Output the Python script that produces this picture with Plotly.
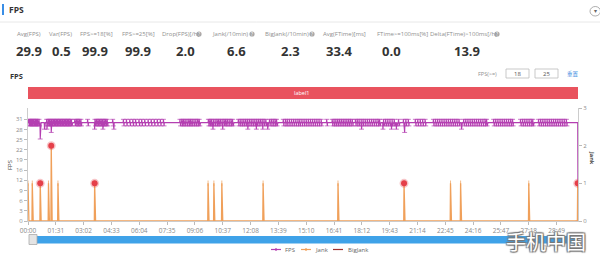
import plotly.graph_objects as go

# ---------------- data ----------------
duration_s = 1800
fps_baseline = 30
fps_up_times = [2, 6, 10, 14, 18, 23, 27, 31, 36,
                61, 66, 70, 75, 79, 84, 88, 93, 97, 102, 106, 111, 115, 120, 124, 129, 133, 138, 142,
                153, 158, 163, 168, 173, 195,
                219, 224, 229, 234, 239, 244, 249, 254, 259, 277,
                312, 322, 333, 343, 352, 363, 372, 382, 393, 403, 413, 423, 433, 443,
                497, 503, 508, 514, 520, 526, 531, 537, 543, 549, 555, 560,
                590, 595, 600, 606, 612, 618, 623, 629, 635, 641, 646, 652, 658, 664, 669,
                688, 694, 700, 706, 712, 718, 724, 730, 736, 742, 748, 754, 760, 766, 772, 778, 790, 796, 802, 808, 813,
                835, 842, 848, 855, 862, 869, 876, 883, 889, 896, 903, 910, 917, 924, 931, 938, 945, 952, 959, 977,
                995, 1001, 1007, 1013, 1019, 1025, 1031, 1037, 1043, 1049, 1055, 1061,
                1071, 1077, 1083, 1090, 1096, 1103, 1110, 1117, 1124, 1131, 1138, 1145, 1150,
                1163, 1170, 1177, 1184, 1191, 1198, 1205, 1212, 1228, 1236, 1244,
                1267, 1275, 1283, 1291, 1299,
                1326, 1333, 1340, 1347, 1354, 1361, 1368, 1375, 1382, 1389, 1396, 1403, 1410,
                1425, 1432, 1439, 1446, 1453, 1460, 1467, 1474, 1481, 1488, 1495, 1500,
                1523, 1530, 1537, 1544, 1551, 1558, 1565, 1572, 1579, 1585,
                1611, 1618, 1625, 1632, 1639, 1646, 1651,
                1670, 1677, 1684, 1691, 1698, 1705, 1712, 1719, 1726, 1733, 1740, 1747, 1754, 1761]
fps_down_times = [4, 8, 12, 16, 21, 25, 29, 33, 38,
                  63, 68, 72, 77, 81, 86, 90, 95, 99, 104, 108, 113, 117, 122, 126, 131, 135, 140, 144,
                  155, 160, 165, 170, 175, 197,
                  221, 226, 231, 236, 241, 246, 251, 256, 261, 279,
                  314, 324, 335, 345, 354, 365, 374, 384, 395, 405, 415, 425, 435, 445,
                  499, 505, 510, 516, 522, 528, 533, 539, 545, 551, 557, 562,
                  592, 597, 602, 608, 614, 620, 625, 631, 637, 643, 648, 654, 660, 666, 671,
                  690, 696, 702, 708, 714, 720, 726, 732, 738, 744, 750, 756, 762, 768, 774, 780, 792, 798, 804, 810, 815,
                  837, 844, 850, 857, 864, 871, 878, 885, 891, 898, 905, 912, 919, 926, 933, 940, 947, 954, 961, 979,
                  997, 1003, 1009, 1015, 1021, 1027, 1033, 1039, 1045, 1051, 1057, 1063,
                  1073, 1079, 1085, 1092, 1098, 1105, 1112, 1119, 1126, 1133, 1140, 1147, 1152,
                  1165, 1172, 1179, 1186, 1193, 1200, 1207, 1214, 1230, 1238, 1246,
                  1269, 1277, 1285, 1293, 1301,
                  1328, 1335, 1342, 1349, 1356, 1363, 1370, 1377, 1384, 1391, 1398, 1405, 1412,
                  1427, 1434, 1441, 1448, 1455, 1462, 1469, 1476, 1483, 1490, 1497, 1502,
                  1525, 1532, 1539, 1546, 1553, 1560, 1567, 1574, 1581, 1587,
                  1613, 1620, 1627, 1634, 1641, 1648, 1653,
                  1672, 1679, 1686, 1693, 1700, 1707, 1714, 1721, 1728, 1735, 1742, 1749, 1756, 1763]
fps_dip_times = [40, 54, 62, 76, 218, 245, 281, 605, 637, 719, 747, 768, 784,
                 1091, 1161, 1189, 1205, 1232, 1418, 1799]
fps_dip_values = [25, 28, 28, 27, 28, 28, 28, 28, 28, 28, 28, 28, 28,
                  28, 28, 28, 28, 27, 28, 0]

jank_times = [0, 14, 40, 67, 76, 98, 218, 589, 608, 634, 769, 1014, 1230, 1382, 1415, 1638, 1798]
jank_values = [1, 1, 1, 1, 2, 1, 1, 1, 1, 1, 1, 1, 1, 1, 1, 1, 1]
bigjank_times = [40, 76, 218, 1230, 1798]
bigjank_values = [1, 2, 1, 1, 1]

x_tick_labels = ["00:00", "01:31", "03:02", "04:33", "06:04", "07:35", "09:06", "10:37", "12:08", "13:39",
                 "15:10", "16:41", "18:12", "19:43", "21:14", "22:45", "24:16", "25:47", "27:18", "28:49"]
x_tick_step_s = 91
fps_tick_values = [0, 3.1, 6.2, 9.3, 12.4, 15.5, 18.6, 21.7, 24.8, 27.9, 31]
fps_tick_labels = ["0", "3", "6", "9", "12", "16", "19", "22", "25", "28", "31"]

stat_labels = ["Avg(FPS)", "Var(FPS)", "FPS>=18[%]", "FPS>=25[%]", "Drop(FPS)[/h]", "Jank(/10min)",
               "BigJank(/10min)", "Avg(FTime)[ms]", "FTime>=100ms[%]", "Delta(FTime)>100ms[/h]"]
stat_values = ["29.9", "0.5", "99.9", "99.9", "2.0", "6.6", "2.3", "33.4", "0.0", "13.9"]
stat_has_help = [False, False, False, False, True, True, True, False, False, True]

# ---------------- build series ----------------
t = list(range(duration_s))
fps = [fps_baseline] * duration_s
for s in fps_up_times:
    fps[s] = 31
for s in fps_down_times:
    fps[s] = 29
for s, v in zip(fps_dip_times, fps_dip_values):
    fps[s] = v
fps_marker_size = [0 if v == fps_baseline else 3.5 for v in fps]

jank = [0] * duration_s
for s, v in zip(jank_times, jank_values):
    jank[s] = v
jank_marker_size = [0 if v == 0 else 4 for v in jank]

bigjank = [None] * duration_s
for s, v in zip(bigjank_times, bigjank_values):
    bigjank[s] = v

# ---------------- geometry helpers (pixel -> paper) ----------------
W, H = 600, 255
L, R, T, B = 28, 22, 108, 34
PW, PH = W - L - R, H - T - B


def px(x):
    return (x - L) / PW


def py(y):
    return (H - B - y) / PH


FPS_C = "#b43fb1"
JANK_C = "#f0a05a"
BIG_C = "#e5404a"
GRAY = "#8a8a8a"
FONT = "Open Sans"

fig = go.Figure()
fig.add_trace(go.Scatter(x=t, y=fps, name="FPS", mode="lines+markers",
                         line=dict(color=FPS_C, width=1.1),
                         marker=dict(symbol="line-ew", size=fps_marker_size,
                                     line=dict(color=FPS_C, width=1)),
                         showlegend=False))
fig.add_trace(go.Scatter(x=t, y=jank, name="Jank", mode="lines+markers", yaxis="y2",
                         line=dict(color=JANK_C, width=1.3),
                         marker=dict(symbol="line-ns", size=jank_marker_size,
                                     line=dict(color=JANK_C, width=1)),
                         showlegend=False))
fig.add_trace(go.Scatter(x=t, y=bigjank, name="BigJank", mode="markers", yaxis="y2",
                         marker=dict(symbol="circle", size=6, color=BIG_C,
                                     line=dict(color="rgba(229,64,74,0.3)", width=3)),
                         showlegend=False))

fig.update_layout(
    width=W, height=H,
    margin=dict(l=L, r=R, t=T, b=B),
    paper_bgcolor="white", plot_bgcolor="white",
    font=dict(family=FONT, color=GRAY, size=7),
    xaxis=dict(range=[0, duration_s - 1],
               tickvals=[i * x_tick_step_s for i in range(len(x_tick_labels))],
               ticktext=x_tick_labels, showgrid=False, zeroline=False,
               showline=True, linecolor="#cccccc", linewidth=1,
               ticks="outside", ticklen=3, tickcolor="#bbbbbb",
               tickfont=dict(size=6.5, color=GRAY)),
    yaxis=dict(range=[0, 34.45], tickvals=fps_tick_values, ticktext=fps_tick_labels,
               showgrid=False, zeroline=False, showline=True, linecolor="#cccccc",
               ticks="outside", ticklen=3, tickcolor="#bbbbbb",
               tickfont=dict(size=6, color=GRAY)),
    yaxis2=dict(range=[0, 3], tickvals=[0, 1, 2, 3], overlaying="y", side="right",
                showgrid=False, zeroline=False, showline=True, linecolor="#cccccc",
                ticks="outside", ticklen=3, tickcolor="#bbbbbb",
                tickfont=dict(size=6, color=GRAY)),
)

shapes = []
ann = []

# header
shapes.append(dict(type="line", xref="paper", yref="paper", x0=px(3), x1=px(3), y0=py(4), y1=py(15),
                   line=dict(color="#3a8ee6", width=2)))
ann.append(dict(text="<b>FPS</b>", x=px(7), y=py(9.5), xanchor="left", yanchor="middle",
                font=dict(size=8.5, color="#333333")))
shapes.append(dict(type="line", xref="paper", yref="paper", x0=px(0), x1=px(600), y0=py(22), y1=py(22),
                   line=dict(color="#e8e8e8", width=1)))
shapes.append(dict(type="circle", xref="paper", yref="paper", x0=px(590), x1=px(600.5), y0=py(6.5), y1=py(16),
                   line=dict(color="#999999", width=0.8)))
ann.append(dict(text="▾", x=px(595.5), y=py(11), xanchor="center", yanchor="middle",
                font=dict(size=6, color="#666666")))

# stats
label_centers = [29, 60, 96, 138, 183, 233, 290, 344, 402, 466]
value_centers = [28.5, 61, 95, 138, 185, 236, 290, 339, 391, 467]
for lab, val, help_, lc, vc in zip(stat_labels, stat_values, stat_has_help, label_centers, value_centers):
    ann.append(dict(text=lab, x=px(lc - (3 if help_ else 0)), y=py(34), xanchor="center", yanchor="middle",
                    font=dict(size=6, color="#8f8f8f")))
    ann.append(dict(text="<b>" + val + "</b>", x=px(vc), y=py(51), xanchor="center", yanchor="middle",
                    font=dict(size=13, color="#333333")))
help_x = [199, 252, 312, 497]
for hx in help_x:
    shapes.append(dict(type="circle", xref="paper", yref="paper", x0=px(hx - 2.6), x1=px(hx + 2.6),
                       y0=py(31.4), y1=py(36.6), fillcolor="#a8a8a8", line=dict(width=0)))
    ann.append(dict(text="?", x=px(hx), y=py(34), xanchor="center", yanchor="middle",
                    font=dict(size=4.5, color="white")))

# sub title + controls
ann.append(dict(text="<b>FPS</b>", x=px(8), y=py(76), xanchor="left", yanchor="middle",
                font=dict(size=7.5, color="#333333")))
ann.append(dict(text="FPS(>=)", x=px(487), y=py(73.5), xanchor="center", yanchor="middle",
                font=dict(size=5.5, color="#8f8f8f")))
for x0, x1, txt in [(506, 529, "18"), (535, 558, "25")]:
    shapes.append(dict(type="rect", xref="paper", yref="paper", x0=px(x0), x1=px(x1), y0=py(69), y1=py(78),
                       line=dict(color="#bbbbbb", width=0.8), fillcolor="white"))
    ann.append(dict(text=txt, x=px((x0 + x1) / 2), y=py(73.5), xanchor="center", yanchor="middle",
                    font=dict(size=6, color="#555555")))
ann.append(dict(text="重置", x=px(572.5), y=py(73.5), xanchor="center", yanchor="middle",
                font=dict(size=5.5, color="#3b8de0", family="Noto Sans CJK SC")))

# label bar
shapes.append(dict(type="rect", xref="paper", yref="paper", x0=px(28), x1=px(578), y0=py(87), y1=py(99),
                   fillcolor="#e9535e", line=dict(width=0)))
ann.append(dict(text="label1", x=px(301), y=py(93), xanchor="center", yanchor="middle",
                font=dict(size=5.5, color="white")))

# axis titles
ann.append(dict(text="FPS", x=px(10), y=py(165), xanchor="center", yanchor="middle", textangle=-90,
                font=dict(size=6, color="#444444")))
ann.append(dict(text="<b>Jank</b>", x=px(592), y=py(158), xanchor="center", yanchor="middle", textangle=90,
                font=dict(size=5.5, color="#444444")))

# slider
shapes.append(dict(type="rect", xref="paper", yref="paper", x0=px(31), x1=px(578), y0=py(236), y1=py(243.5),
                   fillcolor="#3fa2e8", line=dict(width=0)))
shapes.append(dict(type="rect", xref="paper", yref="paper", x0=px(29), x1=px(37), y0=py(234.5), y1=py(244.5),
                   fillcolor="#e4e4e4", line=dict(color="#aaaaaa", width=0.8)))

# custom legend
leg_y = py(249.5)
for x0, x1, col, txt, tx, mk in [(271, 281, FPS_C, "FPS", 283, True),
                                  (301, 311, JANK_C, "Jank", 313, True),
                                  (333, 343, "#a0302e", "BigJank", 346, False)]:
    shapes.append(dict(type="line", xref="paper", yref="paper", x0=px(x0), x1=px(x1), y0=leg_y, y1=leg_y,
                       line=dict(color=col, width=1.2)))
    if mk:
        shapes.append(dict(type="line", xref="paper", yref="paper", x0=px((x0 + x1) / 2), x1=px((x0 + x1) / 2),
                           y0=py(248), y1=py(251), line=dict(color=col, width=1.2)))
    ann.append(dict(text=txt, x=px(tx), y=leg_y, xanchor="left", yanchor="middle",
                    font=dict(size=6, color="#666666")))

# watermark (overlays the end of the time axis, as in the reference)
ann.append(dict(text="手机中国", x=px(546), y=py(241), xanchor="center", yanchor="middle",
                font=dict(size=20, color="white", family="Noto Sans CJK SC",
                          shadow="1px 1px 1px #777, -1px -1px 1px #777, 1px -1px 1px #777, -1px 1px 1px #777")))

for a in ann:
    a.setdefault("xref", "paper")
    a.setdefault("yref", "paper")
    a["showarrow"] = False
fig.update_layout(shapes=shapes, annotations=ann)

fig.write_html("out.html")
